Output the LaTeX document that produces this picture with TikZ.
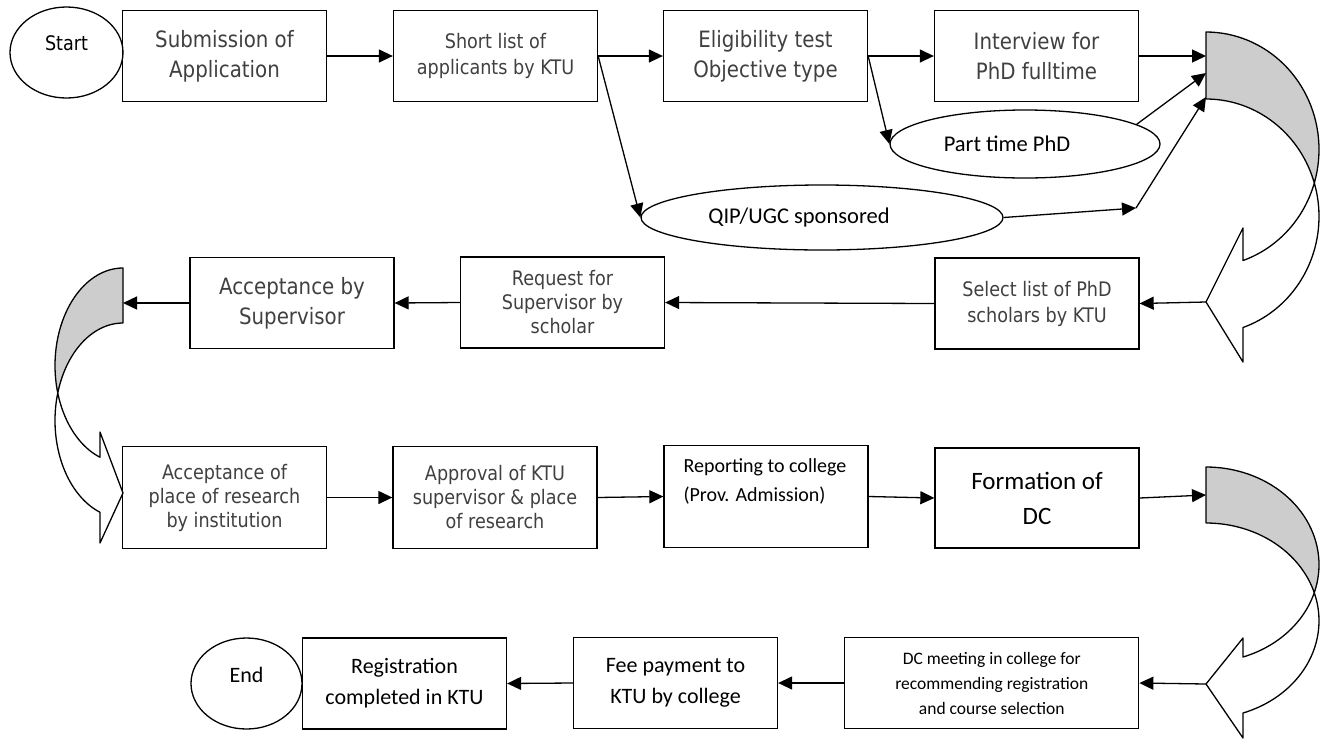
\documentclass[tikz,border=0pt]{standalone}
\usepackage{fontspec}
\usetikzlibrary{arrows.meta,shapes.geometric}
\newfontfamily\tahoma[FakeStretch=0.88]{DejaVu Sans}
\newfontfamily\calibri{Carlito}
\definecolor{txtgray}{RGB}{64,64,64}
\definecolor{backgray}{RGB}{205,205,205}
\tikzset{
  box/.style={draw, line width=1.3pt, minimum width=204pt, minimum height=91pt, inner sep=0pt, align=center},
  term/.style={draw, ellipse, line width=1.3pt, inner sep=0pt},
  tbig/.style={font=\tahoma\fontsize{22.5}{30}\selectfont, text=txtgray},
  tsmall/.style={font=\tahoma\fontsize{20}{26}\selectfont, text=txtgray},
  ttight/.style={font=\tahoma\fontsize{20}{24}\selectfont, text=txtgray},
  cell/.style={font=\calibri\fontsize{22.5}{27}\selectfont},
  cmid/.style={font=\calibri\fontsize{20}{29}\selectfont},
  creg/.style={font=\calibri\fontsize{22}{31}\selectfont},
  cdc/.style={font=\calibri\fontsize{25}{35}\selectfont},
  csmall/.style={font=\calibri\fontsize{17.5}{25}\selectfont},
  arr/.style={-{Triangle[length=14pt,width=13pt]}, line width=1.3pt},
  curvy/.style={line width=1.3pt, line join=round}
}
\begin{document}
\begin{tikzpicture}[x=1pt, y=-1pt]
\useasboundingbox (0,0) rectangle (1320,740);
\node[term, minimum width=113pt, minimum height=91pt, label={[tsmall, text=black, yshift=9pt]center:Start}] (start) at (66.5,52.5) {};
\node[box, tbig] (sub) at (224.5,56) {Submission of\\Application};
\node[box, tsmall] (short) at (495.5,56) {Short list of\\applicants by KTU};
\node[box, tbig] (elig) at (765.5,56) {Eligibility test\\Objective type};
\node[box, tbig] (intv) at (1036.5,56) {Interview for\\PhD fulltime};
\node[term, minimum width=270pt, minimum height=68pt, label={[cell, xshift=-18pt]center:Part time PhD}] (pt) at (1025,144) {};
\node[term, minimum width=362pt, minimum height=65pt, label={[cell, xshift=-23pt]center:QIP/UGC sponsored}] (qip) at (822,217.5) {};
\node[box, tbig] (acs) at (292,303) {Acceptance by\\Supervisor};
\node[box, ttight] (req) at (562.5,302.5) {Request for\\Supervisor by\\scholar};
\node[box, tsmall] (sel) at (1037,303.5) {Select list of PhD\\scholars by KTU};
\node[box, ttight, minimum height=102pt] (acp) at (224.5,497.5) {Acceptance of\\place of research\\by institution};
\node[box, ttight, minimum height=102pt] (app) at (495,497.5) {Approval of KTU\\supervisor \& place\\of research};
\node[box, minimum height=102pt] (rep) at (766,496.5) {};
\node[cmid, anchor=north west, align=left, inner sep=0pt] (reptxt) at ([shift={(20,14)}]rep.north west) {Reporting to college\\(Prov. Admission)};
\node[box, cdc, minimum height=100pt] (dc) at (1037,498) {Formation of\\DC};
\node[term, minimum width=111pt, minimum height=91pt, label={[creg, yshift=9pt]center:End}] (end) at (246.5,683.5) {};
\node[box, creg] (reg) at (404.5,683.5) {Registration\\completed in KTU};
\node[box, creg] (fee) at (675.5,683) {Fee payment to\\KTU by college};
\node[box, csmall, minimum width=294pt] (dcm) at (991.75,683) {DC meeting in college for\\recommending registration\\and course selection};
\coordinate (in1) at (1206,56);
\coordinate (in1b) at (1206,73);
\coordinate (in1c) at (1206,97);
\coordinate (tip1) at (1206,302);
\coordinate (qj) at (1136,208);
\coordinate (in3) at (123,303);
\coordinate (in2) at (1206,495);
\coordinate (tip2) at (1206,684);
% curved arrows
\filldraw[curvy, fill=backgray] plot[domain=-90:16.56, samples=40] ({1206+113*cos(\x)},{149.5+117.5*sin(\x)}) -- plot[domain=-16.56:-90, samples=40] ({1206+113*cos(\x)},{216.5+117.5*sin(\x)}) -- cycle;
\filldraw[curvy, fill=white] plot[domain=16.56:70.89, samples=30] ({1206+113*cos(\x)},{149.5+117.5*sin(\x)}) -- (1243,228) -- (tip1) -- (1243,362) -- plot[domain=70.89:-16.56, samples=40] ({1206+113*cos(\x)},{216.5+117.5*sin(\x)}) -- cycle;
\filldraw[curvy, fill=backgray] plot[domain=270:163.6, samples=40] ({123+68*cos(\x)},{365.5+97.5*sin(\x)}) -- plot[domain=196.4:270, samples=40] ({123+68*cos(\x)},{420.5+97.5*sin(\x)}) -- cycle;
\filldraw[curvy, fill=white] plot[domain=163.6:109.8, samples=30] ({123+68*cos(\x)},{365.5+97.5*sin(\x)}) -- (100,432) -- (123,493) -- (100,543) -- plot[domain=109.8:196.4, samples=40] ({123+68*cos(\x)},{420.5+97.5*sin(\x)}) -- cycle;
\filldraw[curvy, fill=backgray] plot[domain=-90:16.65, samples=40] ({1206+113*cos(\x)},{564.7+97.7*sin(\x)}) -- plot[domain=-16.65:-90, samples=40] ({1206+113*cos(\x)},{620.7+97.7*sin(\x)}) -- cycle;
\filldraw[curvy, fill=white] plot[domain=16.65:70.89, samples=30] ({1206+113*cos(\x)},{564.7+97.7*sin(\x)}) -- (1243,638) -- (tip2) -- (1243,738) -- plot[domain=70.89:-16.65, samples=40] ({1206+113*cos(\x)},{620.7+97.7*sin(\x)}) -- cycle;
\draw[arr] (sub.east) -- (short.west);
\draw[arr] (short.east) -- (elig.west);
\draw[arr] (elig.east) -- (intv.west);
\draw[arr] (intv.east) -- (in1);
\draw[arr] (elig.east) -- (pt.west);
\draw[arr] (short.east) -- (qip.west);
\draw[arr] (pt.10) -- (in1b);
\draw[arr] (qip.east) -- (qj);
\draw[arr] (qj) -- (in1c);
\draw[arr] (tip1) -- (sel.east);
\draw[arr] (sel.west) -- (req.east);
\draw[arr] (req.west) -- (acs.east);
\draw[arr] (acs.west) -- (in3);
\draw[arr] (acp.east) -- (app.west);
\draw[arr] (app.east) -- (rep.west);
\draw[arr] (rep.east) -- (dc.west);
\draw[arr] (dc.east) -- (in2);
\draw[arr] (tip2) -- (dcm.east);
\draw[arr] (dcm.west) -- (fee.east);
\draw[arr] (fee.west) -- (reg.east);
\end{tikzpicture}
\end{document}
